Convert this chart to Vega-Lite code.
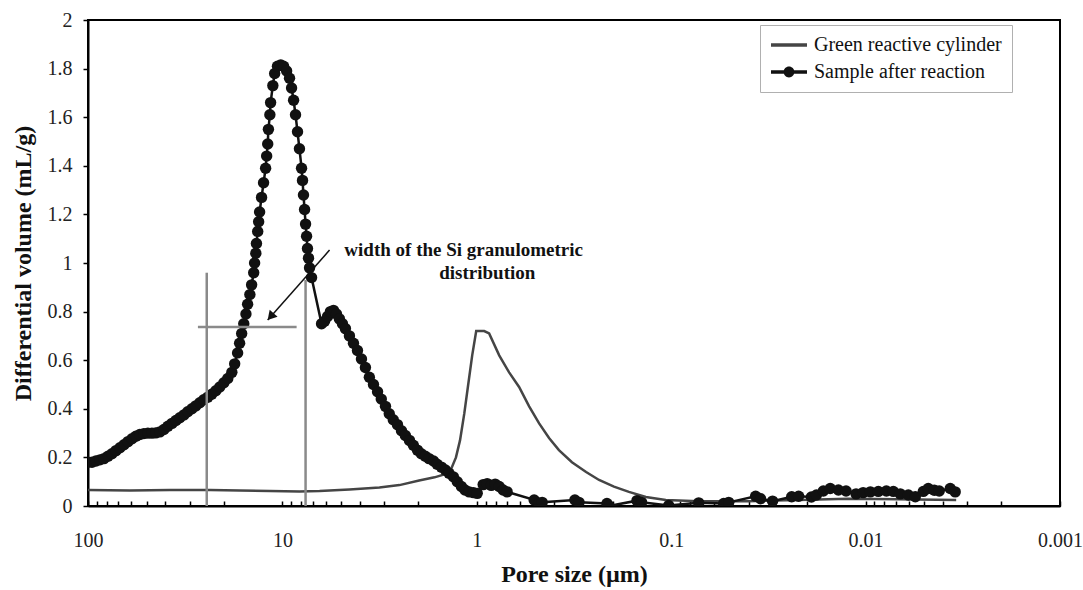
{
  "$schema": "https://vega.github.io/schema/vega-lite/v6.json",
  "width": 972,
  "height": 486,
  "autosize": "none",
  "padding": {"left": 88, "top": 20, "right": 23, "bottom": 84},
  "background": "white",
  "config": {
    "view": {"stroke": "black", "strokeWidth": 2},
    "font": "Liberation Serif",
    "axis": {"grid": false, "labelFont": "Liberation Serif", "titleFont": "Liberation Serif", "labelColor": "#222", "titleColor": "#111", "domainColor": "black", "tickColor": "black", "labelOverlap": false, "labelFlush": false}
  },
  "datasets": {
    "curves": [
      {"s": "Green reactive cylinder", "p": 100, "v": 0.066},
      {"s": "Green reactive cylinder", "p": 60.9, "v": 0.064},
      {"s": "Green reactive cylinder", "p": 37.9, "v": 0.066},
      {"s": "Green reactive cylinder", "p": 23.6, "v": 0.066},
      {"s": "Green reactive cylinder", "p": 16.6, "v": 0.064},
      {"s": "Green reactive cylinder", "p": 11.6, "v": 0.062},
      {"s": "Green reactive cylinder", "p": 8.17, "v": 0.06},
      {"s": "Green reactive cylinder", "p": 6.44, "v": 0.062},
      {"s": "Green reactive cylinder", "p": 4.52, "v": 0.068},
      {"s": "Green reactive cylinder", "p": 3.17, "v": 0.076},
      {"s": "Green reactive cylinder", "p": 2.5, "v": 0.086},
      {"s": "Green reactive cylinder", "p": 1.98, "v": 0.105},
      {"s": "Green reactive cylinder", "p": 1.65, "v": 0.118},
      {"s": "Green reactive cylinder", "p": 1.47, "v": 0.13},
      {"s": "Green reactive cylinder", "p": 1.35, "v": 0.155},
      {"s": "Green reactive cylinder", "p": 1.28, "v": 0.2},
      {"s": "Green reactive cylinder", "p": 1.22, "v": 0.27},
      {"s": "Green reactive cylinder", "p": 1.16, "v": 0.38},
      {"s": "Green reactive cylinder", "p": 1.107, "v": 0.5},
      {"s": "Green reactive cylinder", "p": 1.056, "v": 0.62},
      {"s": "Green reactive cylinder", "p": 1.007, "v": 0.72},
      {"s": "Green reactive cylinder", "p": 0.916, "v": 0.72},
      {"s": "Green reactive cylinder", "p": 0.864, "v": 0.71},
      {"s": "Green reactive cylinder", "p": 0.767, "v": 0.62},
      {"s": "Green reactive cylinder", "p": 0.682, "v": 0.55},
      {"s": "Green reactive cylinder", "p": 0.606, "v": 0.49},
      {"s": "Green reactive cylinder", "p": 0.538, "v": 0.41},
      {"s": "Green reactive cylinder", "p": 0.478, "v": 0.34},
      {"s": "Green reactive cylinder", "p": 0.425, "v": 0.28},
      {"s": "Green reactive cylinder", "p": 0.378, "v": 0.23},
      {"s": "Green reactive cylinder", "p": 0.324, "v": 0.18},
      {"s": "Green reactive cylinder", "p": 0.274, "v": 0.14},
      {"s": "Green reactive cylinder", "p": 0.235, "v": 0.107},
      {"s": "Green reactive cylinder", "p": 0.197, "v": 0.08},
      {"s": "Green reactive cylinder", "p": 0.165, "v": 0.058},
      {"s": "Green reactive cylinder", "p": 0.135, "v": 0.037},
      {"s": "Green reactive cylinder", "p": 0.1066, "v": 0.025},
      {"s": "Green reactive cylinder", "p": 0.0722, "v": 0.02},
      {"s": "Green reactive cylinder", "p": 0.04, "v": 0.02},
      {"s": "Green reactive cylinder", "p": 0.0221, "v": 0.025},
      {"s": "Green reactive cylinder", "p": 0.0123, "v": 0.03},
      {"s": "Green reactive cylinder", "p": 0.00679, "v": 0.028},
      {"s": "Green reactive cylinder", "p": 0.00342, "v": 0.025},
      {"s": "Sample after reaction", "p": 100, "v": 0.18},
      {"s": "Sample after reaction", "p": 95.4, "v": 0.18},
      {"s": "Sample after reaction", "p": 91.0, "v": 0.185},
      {"s": "Sample after reaction", "p": 86.8, "v": 0.19},
      {"s": "Sample after reaction", "p": 82.8, "v": 0.195},
      {"s": "Sample after reaction", "p": 78.9, "v": 0.205},
      {"s": "Sample after reaction", "p": 75.3, "v": 0.215},
      {"s": "Sample after reaction", "p": 71.8, "v": 0.228},
      {"s": "Sample after reaction", "p": 68.5, "v": 0.24},
      {"s": "Sample after reaction", "p": 65.3, "v": 0.252},
      {"s": "Sample after reaction", "p": 62.3, "v": 0.265},
      {"s": "Sample after reaction", "p": 59.4, "v": 0.277},
      {"s": "Sample after reaction", "p": 56.7, "v": 0.287},
      {"s": "Sample after reaction", "p": 54.1, "v": 0.294},
      {"s": "Sample after reaction", "p": 51.6, "v": 0.298},
      {"s": "Sample after reaction", "p": 49.2, "v": 0.3},
      {"s": "Sample after reaction", "p": 46.9, "v": 0.3},
      {"s": "Sample after reaction", "p": 44.8, "v": 0.301},
      {"s": "Sample after reaction", "p": 42.7, "v": 0.305},
      {"s": "Sample after reaction", "p": 40.7, "v": 0.315},
      {"s": "Sample after reaction", "p": 38.8, "v": 0.328},
      {"s": "Sample after reaction", "p": 37.0, "v": 0.34},
      {"s": "Sample after reaction", "p": 35.3, "v": 0.352},
      {"s": "Sample after reaction", "p": 33.7, "v": 0.363},
      {"s": "Sample after reaction", "p": 32.1, "v": 0.375},
      {"s": "Sample after reaction", "p": 30.7, "v": 0.388},
      {"s": "Sample after reaction", "p": 29.2, "v": 0.4},
      {"s": "Sample after reaction", "p": 27.9, "v": 0.412},
      {"s": "Sample after reaction", "p": 26.6, "v": 0.425},
      {"s": "Sample after reaction", "p": 25.4, "v": 0.437},
      {"s": "Sample after reaction", "p": 24.2, "v": 0.448},
      {"s": "Sample after reaction", "p": 23.1, "v": 0.46},
      {"s": "Sample after reaction", "p": 22.0, "v": 0.474},
      {"s": "Sample after reaction", "p": 21.0, "v": 0.49},
      {"s": "Sample after reaction", "p": 20.0, "v": 0.507},
      {"s": "Sample after reaction", "p": 19.1, "v": 0.525},
      {"s": "Sample after reaction", "p": 18.2, "v": 0.55},
      {"s": "Sample after reaction", "p": 17.6, "v": 0.585},
      {"s": "Sample after reaction", "p": 17.0, "v": 0.63},
      {"s": "Sample after reaction", "p": 16.6, "v": 0.67},
      {"s": "Sample after reaction", "p": 16.2, "v": 0.71},
      {"s": "Sample after reaction", "p": 15.8, "v": 0.75},
      {"s": "Sample after reaction", "p": 15.4, "v": 0.79},
      {"s": "Sample after reaction", "p": 15.1, "v": 0.83},
      {"s": "Sample after reaction", "p": 14.7, "v": 0.87},
      {"s": "Sample after reaction", "p": 14.4, "v": 0.91},
      {"s": "Sample after reaction", "p": 14.05, "v": 0.96},
      {"s": "Sample after reaction", "p": 13.9, "v": 1.0},
      {"s": "Sample after reaction", "p": 13.7, "v": 1.04},
      {"s": "Sample after reaction", "p": 13.6, "v": 1.08},
      {"s": "Sample after reaction", "p": 13.4, "v": 1.13},
      {"s": "Sample after reaction", "p": 13.25, "v": 1.17},
      {"s": "Sample after reaction", "p": 13.1, "v": 1.21},
      {"s": "Sample after reaction", "p": 12.8, "v": 1.27},
      {"s": "Sample after reaction", "p": 12.5, "v": 1.33},
      {"s": "Sample after reaction", "p": 12.2, "v": 1.39},
      {"s": "Sample after reaction", "p": 12.05, "v": 1.44},
      {"s": "Sample after reaction", "p": 11.9, "v": 1.49},
      {"s": "Sample after reaction", "p": 11.8, "v": 1.55},
      {"s": "Sample after reaction", "p": 11.6, "v": 1.61},
      {"s": "Sample after reaction", "p": 11.5, "v": 1.66},
      {"s": "Sample after reaction", "p": 11.2, "v": 1.73},
      {"s": "Sample after reaction", "p": 10.96, "v": 1.78},
      {"s": "Sample after reaction", "p": 10.6, "v": 1.81},
      {"s": "Sample after reaction", "p": 10.2, "v": 1.815},
      {"s": "Sample after reaction", "p": 9.86, "v": 1.81},
      {"s": "Sample after reaction", "p": 9.51, "v": 1.79},
      {"s": "Sample after reaction", "p": 9.19, "v": 1.76},
      {"s": "Sample after reaction", "p": 8.97, "v": 1.72},
      {"s": "Sample after reaction", "p": 8.76, "v": 1.67},
      {"s": "Sample after reaction", "p": 8.56, "v": 1.61},
      {"s": "Sample after reaction", "p": 8.36, "v": 1.54},
      {"s": "Sample after reaction", "p": 8.17, "v": 1.47},
      {"s": "Sample after reaction", "p": 7.97, "v": 1.39},
      {"s": "Sample after reaction", "p": 7.88, "v": 1.34},
      {"s": "Sample after reaction", "p": 7.79, "v": 1.28},
      {"s": "Sample after reaction", "p": 7.69, "v": 1.22},
      {"s": "Sample after reaction", "p": 7.6, "v": 1.16},
      {"s": "Sample after reaction", "p": 7.51, "v": 1.11},
      {"s": "Sample after reaction", "p": 7.43, "v": 1.06},
      {"s": "Sample after reaction", "p": 7.34, "v": 1.02},
      {"s": "Sample after reaction", "p": 7.25, "v": 0.98},
      {"s": "Sample after reaction", "p": 7.08, "v": 0.94},
      {"s": "Sample after reaction", "p": 6.29, "v": 0.75},
      {"s": "Sample after reaction", "p": 6.07, "v": 0.76},
      {"s": "Sample after reaction", "p": 5.86, "v": 0.78},
      {"s": "Sample after reaction", "p": 5.66, "v": 0.8},
      {"s": "Sample after reaction", "p": 5.46, "v": 0.805},
      {"s": "Sample after reaction", "p": 5.27, "v": 0.79},
      {"s": "Sample after reaction", "p": 5.09, "v": 0.77},
      {"s": "Sample after reaction", "p": 4.91, "v": 0.75},
      {"s": "Sample after reaction", "p": 4.74, "v": 0.73},
      {"s": "Sample after reaction", "p": 4.52, "v": 0.7},
      {"s": "Sample after reaction", "p": 4.31, "v": 0.67},
      {"s": "Sample after reaction", "p": 4.11, "v": 0.64},
      {"s": "Sample after reaction", "p": 3.92, "v": 0.605},
      {"s": "Sample after reaction", "p": 3.74, "v": 0.57},
      {"s": "Sample after reaction", "p": 3.57, "v": 0.53},
      {"s": "Sample after reaction", "p": 3.4, "v": 0.5},
      {"s": "Sample after reaction", "p": 3.24, "v": 0.47},
      {"s": "Sample after reaction", "p": 3.1, "v": 0.44},
      {"s": "Sample after reaction", "p": 2.95, "v": 0.41},
      {"s": "Sample after reaction", "p": 2.82, "v": 0.38},
      {"s": "Sample after reaction", "p": 2.69, "v": 0.355},
      {"s": "Sample after reaction", "p": 2.56, "v": 0.335},
      {"s": "Sample after reaction", "p": 2.44, "v": 0.31},
      {"s": "Sample after reaction", "p": 2.33, "v": 0.29},
      {"s": "Sample after reaction", "p": 2.22, "v": 0.27},
      {"s": "Sample after reaction", "p": 2.12, "v": 0.25},
      {"s": "Sample after reaction", "p": 2.02, "v": 0.23},
      {"s": "Sample after reaction", "p": 1.93, "v": 0.215},
      {"s": "Sample after reaction", "p": 1.84, "v": 0.205},
      {"s": "Sample after reaction", "p": 1.76, "v": 0.195},
      {"s": "Sample after reaction", "p": 1.67, "v": 0.185},
      {"s": "Sample after reaction", "p": 1.6, "v": 0.172},
      {"s": "Sample after reaction", "p": 1.52, "v": 0.16},
      {"s": "Sample after reaction", "p": 1.45, "v": 0.148},
      {"s": "Sample after reaction", "p": 1.39, "v": 0.135},
      {"s": "Sample after reaction", "p": 1.32, "v": 0.12},
      {"s": "Sample after reaction", "p": 1.26, "v": 0.1},
      {"s": "Sample after reaction", "p": 1.2, "v": 0.08},
      {"s": "Sample after reaction", "p": 1.15, "v": 0.066},
      {"s": "Sample after reaction", "p": 1.094, "v": 0.058},
      {"s": "Sample after reaction", "p": 1.04, "v": 0.055},
      {"s": "Sample after reaction", "p": 0.995, "v": 0.052},
      {"s": "Sample after reaction", "p": 0.927, "v": 0.088},
      {"s": "Sample after reaction", "p": 0.884, "v": 0.092},
      {"s": "Sample after reaction", "p": 0.843, "v": 0.085},
      {"s": "Sample after reaction", "p": 0.804, "v": 0.09},
      {"s": "Sample after reaction", "p": 0.767, "v": 0.08},
      {"s": "Sample after reaction", "p": 0.732, "v": 0.066},
      {"s": "Sample after reaction", "p": 0.698, "v": 0.058},
      {"s": "Sample after reaction", "p": 0.507, "v": 0.025},
      {"s": "Sample after reaction", "p": 0.478, "v": 0.012},
      {"s": "Sample after reaction", "p": 0.461, "v": 0.015},
      {"s": "Sample after reaction", "p": 0.313, "v": 0.025},
      {"s": "Sample after reaction", "p": 0.298, "v": 0.015},
      {"s": "Sample after reaction", "p": 0.214, "v": 0.01},
      {"s": "Sample after reaction", "p": 0.209, "v": 0.0},
      {"s": "Sample after reaction", "p": 0.15, "v": 0.022},
      {"s": "Sample after reaction", "p": 0.142, "v": 0.015},
      {"s": "Sample after reaction", "p": 0.103, "v": 0.002},
      {"s": "Sample after reaction", "p": 0.0722, "v": 0.013},
      {"s": "Sample after reaction", "p": 0.0537, "v": 0.01},
      {"s": "Sample after reaction", "p": 0.0506, "v": 0.015},
      {"s": "Sample after reaction", "p": 0.0368, "v": 0.04},
      {"s": "Sample after reaction", "p": 0.0347, "v": 0.03},
      {"s": "Sample after reaction", "p": 0.0301, "v": 0.02},
      {"s": "Sample after reaction", "p": 0.024, "v": 0.038},
      {"s": "Sample after reaction", "p": 0.0221, "v": 0.04},
      {"s": "Sample after reaction", "p": 0.019, "v": 0.037},
      {"s": "Sample after reaction", "p": 0.0179, "v": 0.045},
      {"s": "Sample after reaction", "p": 0.0165, "v": 0.062},
      {"s": "Sample after reaction", "p": 0.0152, "v": 0.072},
      {"s": "Sample after reaction", "p": 0.0138, "v": 0.066},
      {"s": "Sample after reaction", "p": 0.0126, "v": 0.062},
      {"s": "Sample after reaction", "p": 0.0112, "v": 0.05},
      {"s": "Sample after reaction", "p": 0.0103, "v": 0.055},
      {"s": "Sample after reaction", "p": 0.00945, "v": 0.058},
      {"s": "Sample after reaction", "p": 0.0086, "v": 0.06},
      {"s": "Sample after reaction", "p": 0.00782, "v": 0.062},
      {"s": "Sample after reaction", "p": 0.0072, "v": 0.06},
      {"s": "Sample after reaction", "p": 0.00663, "v": 0.05},
      {"s": "Sample after reaction", "p": 0.00603, "v": 0.045},
      {"s": "Sample after reaction", "p": 0.00555, "v": 0.038},
      {"s": "Sample after reaction", "p": 0.00505, "v": 0.06},
      {"s": "Sample after reaction", "p": 0.00476, "v": 0.072},
      {"s": "Sample after reaction", "p": 0.00443, "v": 0.065},
      {"s": "Sample after reaction", "p": 0.00418, "v": 0.062},
      {"s": "Sample after reaction", "p": 0.00367, "v": 0.072},
      {"s": "Sample after reaction", "p": 0.00346, "v": 0.058}
    ]
  },
  "layer": [
    {
      "data": {"name": "curves"},
      "mark": {"type": "line", "strokeWidth": 2.5, "clip": true},
      "encoding": {
        "x": {
          "field": "p", "type": "quantitative",
          "scale": {"type": "log", "domain": [0.001, 100], "reverse": true, "nice": false},
          "axis": {
            "title": "Pore size (µm)",
            "titleFontSize": 24, "titleFontWeight": "bold", "titlePadding": 12,
            "labelFontSize": 20, "labelPadding": 29, "tickSize": -5, "tickWidth": 1.5, "domainWidth": 2,
            "values": [100, 90, 80, 70, 60, 50, 40, 30, 20, 10, 9, 8, 7, 6, 5, 4, 3, 2, 1, 0.9, 0.8, 0.7, 0.6, 0.5, 0.4, 0.3, 0.2, 0.1, 0.09, 0.08, 0.07, 0.06, 0.05, 0.04, 0.03, 0.02, 0.01, 0.009, 0.008, 0.007, 0.006, 0.005, 0.004, 0.003, 0.002, 0.001],
            "labelExpr": "abs(log(datum.value)/LN10 - round(log(datum.value)/LN10)) < 0.001 ? format(datum.value, '~g') : ''"
          }
        },
        "y": {
          "field": "v", "type": "quantitative",
          "scale": {"domain": [0, 2], "nice": false},
          "axis": {
            "title": "Differential volume (mL/g)",
            "titleFontSize": 24, "titleFontWeight": "bold", "titlePadding": 12,
            "labelFontSize": 20, "labelPadding": 11, "tickSize": 5, "tickWidth": 1.5, "domainWidth": 2,
            "values": [0, 0.025, 0.05, 0.075, 0.1, 0.125, 0.15, 0.175, 0.2, 0.225, 0.25, 0.275, 0.3, 0.325, 0.35, 0.375, 0.4, 0.425, 0.45, 0.475, 0.5, 0.525, 0.55, 0.575, 0.6, 0.625, 0.65, 0.675, 0.7, 0.725, 0.75, 0.775, 0.8, 0.825, 0.85, 0.875, 0.9, 0.925, 0.95, 0.975, 1, 1.025, 1.05, 1.075, 1.1, 1.125, 1.15, 1.175, 1.2, 1.225, 1.25, 1.275, 1.3, 1.325, 1.35, 1.375, 1.4, 1.425, 1.45, 1.475, 1.5, 1.525, 1.55, 1.575, 1.6, 1.625, 1.65, 1.675, 1.7, 1.725, 1.75, 1.775, 1.8, 1.825, 1.85, 1.875, 1.9, 1.925, 1.95, 1.975, 2],
            "labelExpr": "abs(datum.value*5 - round(datum.value*5)) < 0.001 ? format(datum.value, '~g') : ''"
          }
        },
        "color": {
          "field": "s", "type": "nominal",
          "scale": {"domain": ["Green reactive cylinder", "Sample after reaction"], "range": ["#454545", "#111111"]},
          "legend": {
            "title": null, "orient": "none", "legendX": 672, "legendY": 5,
            "strokeColor": "#b0b0b0", "fillColor": "white", "padding": 10,
            "labelFont": "Liberation Serif", "labelFontSize": 20, "labelColor": "#111", "labelLimit": 400,
            "symbolSize": 324, "labelOffset": 24, "rowPadding": 7,
            "encode": {
              "symbols": {
                "update": {
                  "shape": {"signal": "datum.value === 'Sample after reaction' ? 'M-1,-0.2H3V0.2H-1Z M0.4,0A0.6,0.6 0 1,1 1.6,0A0.6,0.6 0 1,1 0.4,0Z' : 'M-1,-0.2H3V0.2H-1Z'"},
                  "fill": {"value": "#111111"},
                  "stroke": {"value": "transparent"},
                  "strokeWidth": {"value": 0},
                  "opacity": {"value": 1}
                }
              }
            }
          }
        }
      }
    },
    {
      "data": {"name": "curves"},
      "transform": [{"filter": "datum.s === 'Sample after reaction'"}],
      "mark": {"type": "point", "filled": true, "size": 130, "opacity": 1, "clip": true},
      "encoding": {
        "x": {"field": "p", "type": "quantitative"},
        "y": {"field": "v", "type": "quantitative"},
        "color": {"field": "s", "type": "nominal"}
      }
    },
    {
      "data": {"values": [
        {"p": 24.5, "p2": 24.5, "v": 0, "v2": 0.96},
        {"p": 7.6, "p2": 7.6, "v": 0, "v2": 0.93},
        {"p": 27.2, "p2": 8.45, "v": 0.737, "v2": 0.737}
      ]},
      "mark": {"type": "rule", "color": "#8a8a8a", "strokeWidth": 2.5},
      "encoding": {
        "x": {"field": "p", "type": "quantitative"},
        "x2": {"field": "p2"},
        "y": {"field": "v", "type": "quantitative"},
        "y2": {"field": "v2"}
      }
    },
    {
      "data": {"values": [{"p": 5.72, "p2": 11.9, "v": 1.053, "v2": 0.765}]},
      "mark": {"type": "rule", "color": "#111", "strokeWidth": 1.5},
      "encoding": {
        "x": {"field": "p", "type": "quantitative"},
        "x2": {"field": "p2"},
        "y": {"field": "v", "type": "quantitative"},
        "y2": {"field": "v2"}
      }
    },
    {
      "data": {"values": [{"p": 11.36, "v": 0.784}]},
      "mark": {"type": "point", "shape": "triangle", "filled": true, "color": "#111", "size": 110, "angle": 221, "opacity": 1},
      "encoding": {
        "x": {"field": "p", "type": "quantitative"},
        "y": {"field": "v", "type": "quantitative"}
      }
    },
    {
      "data": {"values": [
        {"p": 4.8, "v": 1.053, "t": "width of the Si granulometric"},
        {"p": 1.56, "v": 0.959, "t": "distribution"}
      ]},
      "mark": {"type": "text", "font": "Liberation Serif", "fontWeight": "bold", "fontSize": 19, "align": "left", "baseline": "middle", "color": "#111"},
      "encoding": {
        "x": {"field": "p", "type": "quantitative"},
        "y": {"field": "v", "type": "quantitative"},
        "text": {"field": "t"}
      }
    }
  ]
}
